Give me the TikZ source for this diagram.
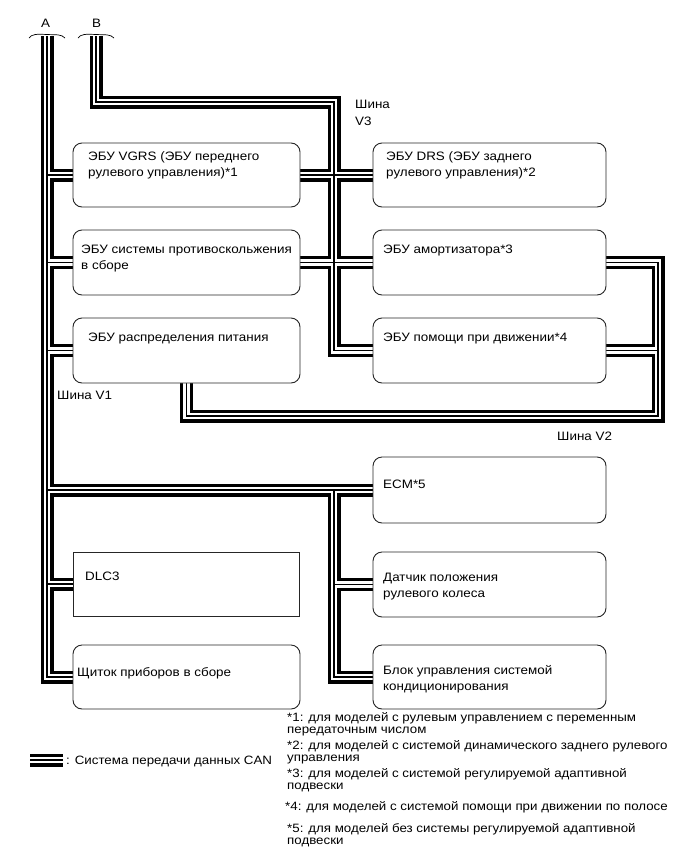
\documentclass[tikz,border=0pt]{standalone}
\usepackage{fontspec}
\setmainfont{Liberation Sans}[FakeStretch=1.1]
\pgfdeclarelayer{buslayer}
\pgfsetlayers{buslayer,main}
\newcommand\boxfont{\fontsize{12.2}{16.5}\selectfont}
\newcommand\notefont{\fontsize{12.1}{12.3}\selectfont}
\newcommand\canbus[1]{%
  % bus A
  \draw[#1] (Atop) -- (Atop |- meter.west) -- (meter.west);
  \draw[#1] (Atop |- vgrs.west) -- (vgrs.west);
  \draw[#1] (Atop |- antiskid.west) -- (antiskid.west);
  \draw[#1] (Atop |- power.west) -- (power.west);
  \draw[#1] (Atop |- ecm.west) -- (ecm.west);
  \draw[#1] (Atop |- dlc.west) -- (dlc.west);
  % bus B / V3
  \draw[#1] (Btop) -- (Btop |- v3c) -- (v3c) -- (v3c |- assist.west) -- (assist.west);
  \draw[#1] (vgrs.east) -- (drs.west);
  \draw[#1] (antiskid.east) -- (shock.west);
  % bus V2
  \draw[#1] (power.south) -- (power.south |- v2c) -- (v2c) -- (v2c |- shock.east) -- (shock.east);
  \draw[#1] (v2c |- assist.east) -- (assist.east);
  % lower branch
  \draw[#1] (cc) -- (cc |- ac.west) -- (ac.west);
  \draw[#1] (cc |- steer.west) -- (steer.west);
  % legend
  \draw[#1] (legL) -- (legR);
}
\begin{document}
\begin{tikzpicture}[x=1pt,y=-1pt,
  ecu/.style={draw=black!85, line width=0.9pt, fill=white, rounded corners=9pt,
    anchor=north west, inner sep=0pt, outer sep=0pt},
  sqbox/.style={ecu, rounded corners=0pt},
  txt/.style={anchor=base west, inner sep=0pt, font=\boxfont},
  note/.style={anchor=base west, inner sep=0pt, font=\notefont},
  busblack/.style={line width=13pt, black, line join=miter},
  buswhite/.style={line width=6.2pt, white, line join=miter},
  buscore/.style={line width=1.1pt, black, line join=miter},
  breakmark/.style={line width=0.7pt, black}]
\useasboundingbox (0,0) rectangle (690,854);

% boxes
\node[ecu, minimum width=227pt, minimum height=64pt] (vgrs) at (73,143) {};
\node[ecu, minimum width=227pt, minimum height=65pt] (antiskid) at (73,230) {};
\node[ecu, minimum width=227pt, minimum height=65pt] (power) at (73,318) {};
\node[ecu, minimum width=233pt, minimum height=64pt] (drs) at (373,143) {};
\node[ecu, minimum width=233pt, minimum height=65pt] (shock) at (373,230) {};
\node[ecu, minimum width=233pt, minimum height=65pt] (assist) at (373,318) {};
\node[ecu, minimum width=233pt, minimum height=66pt] (ecm) at (373,457) {};
\node[ecu, minimum width=233pt, minimum height=65pt] (steer) at (373,552) {};
\node[ecu, minimum width=233pt, minimum height=64pt] (ac) at (373,645) {};
\node[sqbox, minimum width=226pt, minimum height=64pt] (dlc) at (73,552) {};
\node[ecu, minimum width=227pt, minimum height=64pt] (meter) at (73,645) {};

% bus points
\coordinate (Atop) at (47,36);
\coordinate (Btop) at (96,36);
\coordinate (v3c) at (334,102);
\coordinate (v2c) at (658,416);
\coordinate (cc) at (334,490);
\coordinate (legL) at (30,760);
\coordinate (legR) at (63,760);

\begin{pgfonlayer}{buslayer}
  \fill[white] (0,0) rectangle (690,854);
  \canbus{busblack}
  \canbus{buswhite}
  \canbus{buscore}
\end{pgfonlayer}

% break marks
\draw[breakmark] (29,38) .. controls (32,34) and (36,34) .. (47,34.5) .. controls (57,35) and (61,34) .. (65,38);
\draw[breakmark] (78,38) .. controls (81,34) and (85,34) .. (96,34.5) .. controls (106,35) and (110,34) .. (114,38);

% labels
\node[txt] (labA) at (41,27) {A};
\node[txt] (labB) at (92,27) {B};
\node[txt] (labV3) at (355,108) {\parbox[t]{60pt}{Шина\\[1pt]V3}};
\node[txt] (labV1) at (57,399) {Шина V1};
\node[txt] (labV2) at (557,440) {Шина V2};

% box texts
\node[txt] (tvgrs) at (88,160) {\parbox[t]{230pt}{ЭБУ VGRS (ЭБУ переднего\\рулевого управления)*1}};
\node[txt] (tanti) at (81,253) {\parbox[t]{230pt}{ЭБУ системы противоскольжения\\в сборе}};
\node[txt] (tpower) at (88,341) {ЭБУ распределения питания};
\node[txt] (tdrs) at (386,160) {\parbox[t]{230pt}{ЭБУ DRS (ЭБУ заднего\\рулевого управления)*2}};
\node[txt] (tshock) at (383,253) {ЭБУ амортизатора*3};
\node[txt] (tassist) at (383,341) {ЭБУ помощи при движении*4};
\node[txt] (tecm) at (383,488) {ECM*5};
\node[txt] (tsteer) at (383,581) {\parbox[t]{230pt}{Датчик положения\\рулевого колеса}};
\node[txt] (tac) at (383,674) {\parbox[t]{230pt}{Блок управления системой\\кондиционирования}};
\node[txt] (tdlc) at (85,580) {DLC3};
\node[txt] (tmeter) at (77,676) {Щиток приборов в сборе};

% legend
\node[note] (legtxt) at (66,764) {: Система передачи данных CAN};

% footnotes
\node[note] (fn1) at (287,721) {\parbox[t]{400pt}{*1: для моделей с рулевым управлением с переменным\\передаточным числом}};
\node[note] (fn2) at (287,749) {\parbox[t]{400pt}{*2: для моделей с системой динамического заднего рулевого\\управления}};
\node[note] (fn3) at (287,777) {\parbox[t]{400pt}{*3: для моделей с системой регулируемой адаптивной\\подвески}};
\node[note] (fn4) at (285,810) {*4: для моделей с системой помощи при движении по полосе};
\node[note] (fn5) at (287,832) {\parbox[t]{400pt}{*5: для моделей без системы регулируемой адаптивной\\подвески}};
\end{tikzpicture}
\end{document}
